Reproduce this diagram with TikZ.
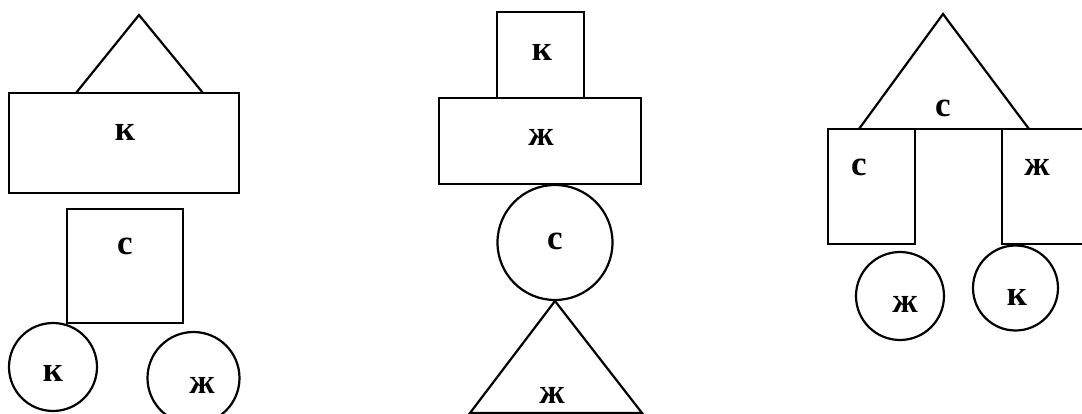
\documentclass[tikz,border=0pt]{standalone}
\usepackage{fontspec}
\setmainfont{Liberation Serif}
\begin{document}
\begin{tikzpicture}[x=1pt,y=-1pt,
  shp/.style={draw=black,line width=2.2pt,line join=miter},
  lbl/.style={inner sep=0pt,font=\fontsize{35}{35}\selectfont\bfseries}]
\useasboundingbox (0,0) rectangle (1082,414);
\fill[white] (0,0) rectangle (1082,414);
\clip (0,0) rectangle (1082,414);
% ---- left figure ----
\draw[shp] (76,93) -- (139,15) -- (203,93);
\draw[shp] (9,93) rectangle (239,193);
\draw[shp] (67,209) rectangle (183,323);
\draw[shp] (53,367) circle[radius=44];
\draw[shp] (193.5,378) circle[radius=46];
\node[lbl] (l1) at (125,132) {к};
\node[lbl] (l2) at (125,246) {с};
\node[lbl] (l3) at (53,373) {к};
\node[lbl] (l4) at (202,385) {ж};
% ---- middle figure ----
\draw[shp] (497,98) -- (497,12) -- (584,12) -- (584,98);
\draw[shp] (439,98) rectangle (641,184);
\draw[shp] (555,242.5) circle[radius=57.5];
\draw[shp] (470,413) -- (555,301) -- (642,413) -- cycle;
\node[lbl] (m1) at (542,52) {к};
\node[lbl] (m2) at (541,137) {ж};
\node[lbl] (m3) at (555,241) {с};
\node[lbl] (m4) at (552,395) {ж};
% ---- right figure ----
\draw[shp] (859,129) -- (943,14) -- (1029,129);
\draw[shp] (828,129) -- (1090,129);
\draw[shp] (828,129) rectangle (915,244);
\draw[shp] (1090,129) -- (1002,129) -- (1002,244) -- (1090,244);
\draw[shp] (900,296) circle[radius=44];
\draw[shp] (1015.5,288) circle[radius=42.5];
\node[lbl] (r1) at (943,108) {с};
\node[lbl] (r2) at (859,167) {с};
\node[lbl] (r3) at (1037,167) {ж};
\node[lbl] (r4) at (905,304) {ж};
\node[lbl] (r5) at (1017,297) {к};
\end{tikzpicture}
\end{document}
